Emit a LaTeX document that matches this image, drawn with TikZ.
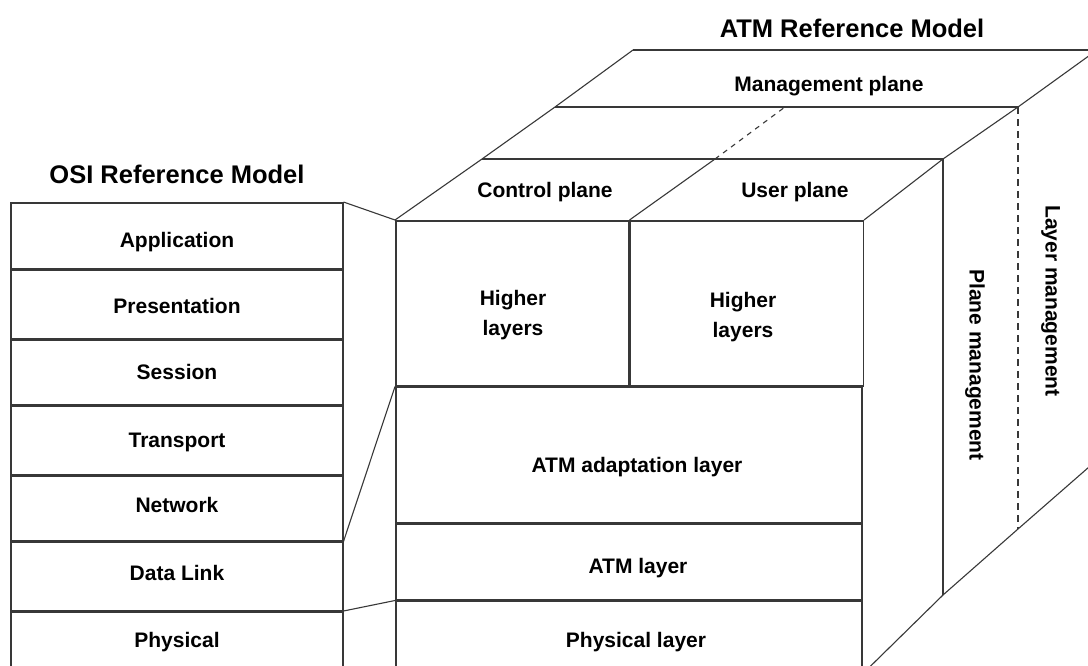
\documentclass[tikz,border=0pt]{standalone}
\usepackage{fontspec}
\setmainfont{Liberation Sans}
\begin{document}
\begin{tikzpicture}[x=1pt,y=-1pt,
  box/.style={draw=black!78, line width=1.5pt, inner sep=0pt, anchor=north west},
  edge/.style={draw=black!78, line width=1.1pt},
  rule/.style={draw=black!78, line width=1.5pt},
  lbl/.style={font=\bfseries\fontsize{21}{25}\selectfont, text height=15pt, text depth=0pt, inner sep=0pt},
  lbltwo/.style={font=\bfseries\fontsize{21}{30}\selectfont, align=center, inner sep=0pt},
  ttl/.style={font=\bfseries\fontsize{25.5}{30}\selectfont, text height=18.3pt, text depth=0pt, inner sep=0pt}]
\useasboundingbox (0,0) rectangle (1088,665);
\fill[white] (0,0) rectangle (1088,665);
\clip (0,0) rectangle (1088,665);

% ---- OSI stack ----
\node[box, minimum width=332pt, minimum height=66pt] (app) at (10,202) {};
\node[box, minimum width=332pt, minimum height=68pt] (pre) at (app.south west) {};
\node[box, minimum width=332pt, minimum height=65pt] (ses) at (pre.south west) {};
\node[box, minimum width=332pt, minimum height=68pt] (tra) at (ses.south west) {};
\node[box, minimum width=332pt, minimum height=65pt] (net) at (tra.south west) {};
\node[box, minimum width=332pt, minimum height=68pt] (dl)  at (net.south west) {};
\node[box, minimum width=332pt, minimum height=66pt] (phs) at (dl.south west) {};

\node[ttl] (osititle) at (177,174) {OSI Reference Model};
\node[lbl] (tapp) at (177,240) {Application};
\node[lbl] (tpre) at (177,306) {Presentation};
\node[lbl] (tses) at (177,372) {Session};
\node[lbl] (ttra) at (177,440) {Transport};
\node[lbl] (tnet) at (177,505) {Network};
\node[lbl] (tdl)  at (177,573) {Data Link};
\node[lbl] (tphs) at (177,640) {Physical};

% ---- ATM cube, front face ----
\node[box, minimum width=233pt, minimum height=165pt] (hlc) at (395,220) {};
\node[box, minimum width=233pt, minimum height=165pt] (hlu) at (hlc.north east) {};
\node[box, minimum width=466pt, minimum height=135pt] (aal) at (hlc.south west) {};
\node[box, minimum width=466pt, minimum height=76pt]  (atm) at (aal.south west) {};
\node[box, minimum width=466pt, minimum height=72pt]  (phy) at (atm.south west) {};

% ---- top face ----
\coordinate (c1l) at (482,159);
\coordinate (c1m) at (715,159);
\coordinate (c1r) at (943,159);
\coordinate (c2l) at (555,107);
\coordinate (c2m) at (785,107);
\coordinate (c2r) at (1018,107);
\coordinate (c3l) at (633,50);
\coordinate (c3r) at (1097,50);

\draw[edge] (hlc.north west) -- (c1l) -- (c2l) -- (c3l);
\draw[edge] (hlu.north east) -- (c1r) -- (c2r) -- (c3r);
\draw[edge] (hlc.north east) -- (c1m);
\draw[edge, dash pattern=on 5pt off 5pt] (c1m) -- (c2m);
\draw[rule] (c1l) -- (c1r);
\draw[rule] (c2l) -- (c2r);
\draw[rule] (c3l) -- (c3r);

% ---- right side ----
\coordinate (b1) at (943,595);
\coordinate (b2) at (1018,529);
\coordinate (b3) at (1097,460);
\draw[rule] (c1r) -- (b1);
\draw[edge, dash pattern=on 7pt off 5pt] (c2r) -- (b2);
\draw[edge] (phy.south east) -- (b1) -- (b2) -- (b3);

% ---- OSI to ATM correspondence ----
\draw[edge] (app.north east) -- (hlc.north west);
\draw[edge] (net.south east) -- (aal.north west);
\draw[edge] (dl.south east) -- (phy.north west);

% ---- ATM labels ----
\node[ttl] (atmtitle) at (852,28.5) {ATM Reference Model};
\node[lbl] (tmgmt) at (829,84) {Management plane};
\node[lbl] (tctl) at (545,190) {Control plane};
\node[lbl] (tusr) at (795,190) {User plane};
\node[lbltwo] (thlc) at (513,315) {Higher\\layers};
\node[lbltwo] (thlu) at (743,317) {Higher\\layers};
\node[lbl] (taal) at (637,465) {ATM adaptation layer};
\node[lbl] (tatm) at (638,566) {ATM layer};
\node[lbl] (tphy) at (636,640) {Physical layer};
\node[lbl, rotate=-90] (tplm) at (977,365) {Plane management};
\node[lbl, rotate=-90] (tlym) at (1053,301) {Layer management};
\end{tikzpicture}
\end{document}
